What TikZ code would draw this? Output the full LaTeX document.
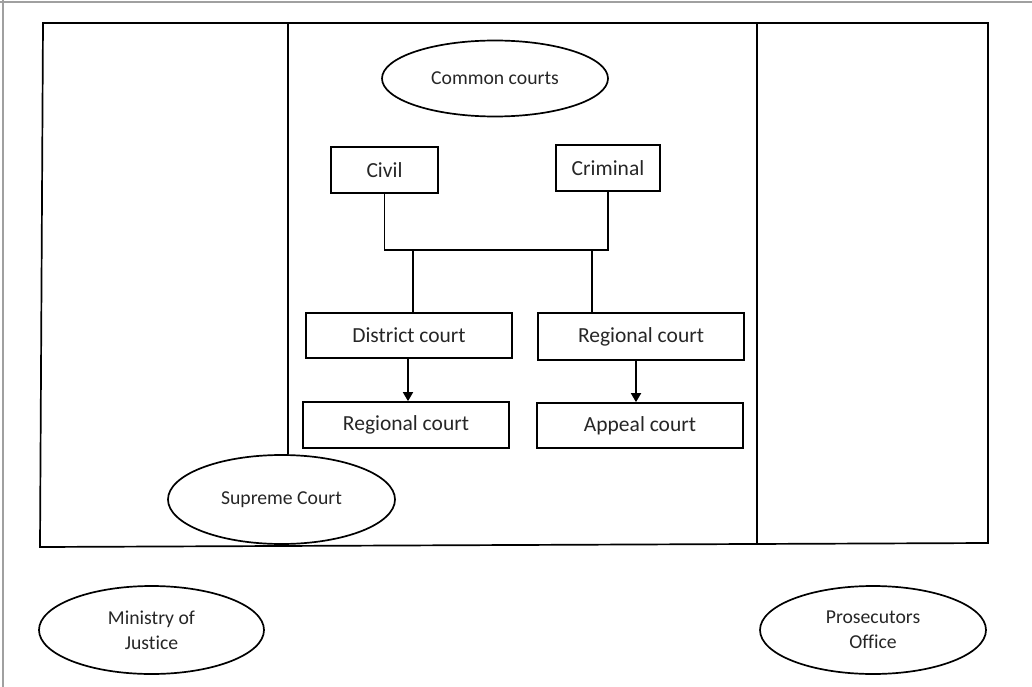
\documentclass[tikz,border=0pt]{standalone}
\usepackage{fontspec}
\setmainfont{Carlito}[Ligatures=NoCommon]
\usetikzlibrary{shapes.geometric,arrows.meta}
\definecolor{txt}{HTML}{262626}
\definecolor{frame}{HTML}{A0A0A0}
\tikzset{
  stroke/.style={draw=black, line width=1.7pt},
  boxnode/.style={stroke, rectangle, inner sep=0pt, text=txt, font=\fontsize{21.5}{25}\selectfont},
  ovalnode/.style={stroke, ellipse, inner sep=0pt, text=txt, align=center, font=\fontsize{19.7}{25}\selectfont},
  link/.style={draw=black, line width=1.7pt},
  arrowlink/.style={link, -{Triangle[length=9pt,width=10pt]}}
}
\begin{document}
\begin{tikzpicture}[x=1pt,y=-1pt]
\useasboundingbox (0,0) rectangle (1032,687);
% partial gray frame
\draw[frame, line width=2pt] (2.7,0) -- (2.7,687);
\draw[frame, line width=2pt] (0,1.8) -- (1032,1.8);
% outer panel
\coordinate (tl) at (43,23);
\coordinate (tr) at (988,23);
\coordinate (br) at (988,543);
\coordinate (bl) at (40,547);
\draw[stroke] (tl) -- (tr) -- (br) -- (bl) -- cycle;
% ellipses
\node[ovalnode, minimum width=226pt, minimum height=76pt] (common) at (495,78.5) {Common courts};
\node[ovalnode, minimum width=227pt, minimum height=89pt] (supreme) at (281.5,499.5) {Supreme Court};
\node[ovalnode, minimum width=225pt, minimum height=88pt] (ministry) at (151.5,630) {Ministry of\\Justice};
\node[ovalnode, minimum width=226pt, minimum height=88pt] (prosec) at (873,630) {Prosecutors\\Office};
% dividers
\coordinate (ld) at (288,23);
\coordinate (rd) at (757,23);
\draw[stroke] (ld) -- (ld |- supreme.north);
\draw[stroke] (rd) -- (757,543);
% boxes
\node[boxnode, minimum width=107pt, minimum height=46pt] (civil) at (384.5,170) {Civil};
\node[boxnode, minimum width=104pt, minimum height=46pt] (crim) at (608,168) {Criminal};
\node[boxnode, minimum width=206pt, minimum height=45pt] (district) at (409,335.5) {District court};
\node[boxnode, minimum width=206pt, minimum height=47pt] (regA) at (641,336.5) {Regional court};
\node[boxnode, minimum width=206pt, minimum height=46pt] (regB) at (406,425) {Regional court};
\node[boxnode, minimum width=206pt, minimum height=45pt] (appeal) at (640,425.5) {Appeal court};
% connectors
\coordinate (jl) at (civil.south |- 0,250);
\coordinate (jr) at (crim.south |- 0,250);
\draw[link] (civil.south) -- (jl) -- (jr) -- (crim.south);
\coordinate (dl) at (413,250);
\coordinate (dr) at (592,250);
\draw[link] (dl) -- (dl |- district.north);
\draw[link] (dr) -- (dr |- regA.north);
\coordinate (al) at (408,0);
\coordinate (ar) at (636,0);
\draw[arrowlink] (al |- district.south) -- (al |- regB.north);
\draw[arrowlink] (ar |- regA.south) -- (ar |- appeal.north);
\end{tikzpicture}
\end{document}
